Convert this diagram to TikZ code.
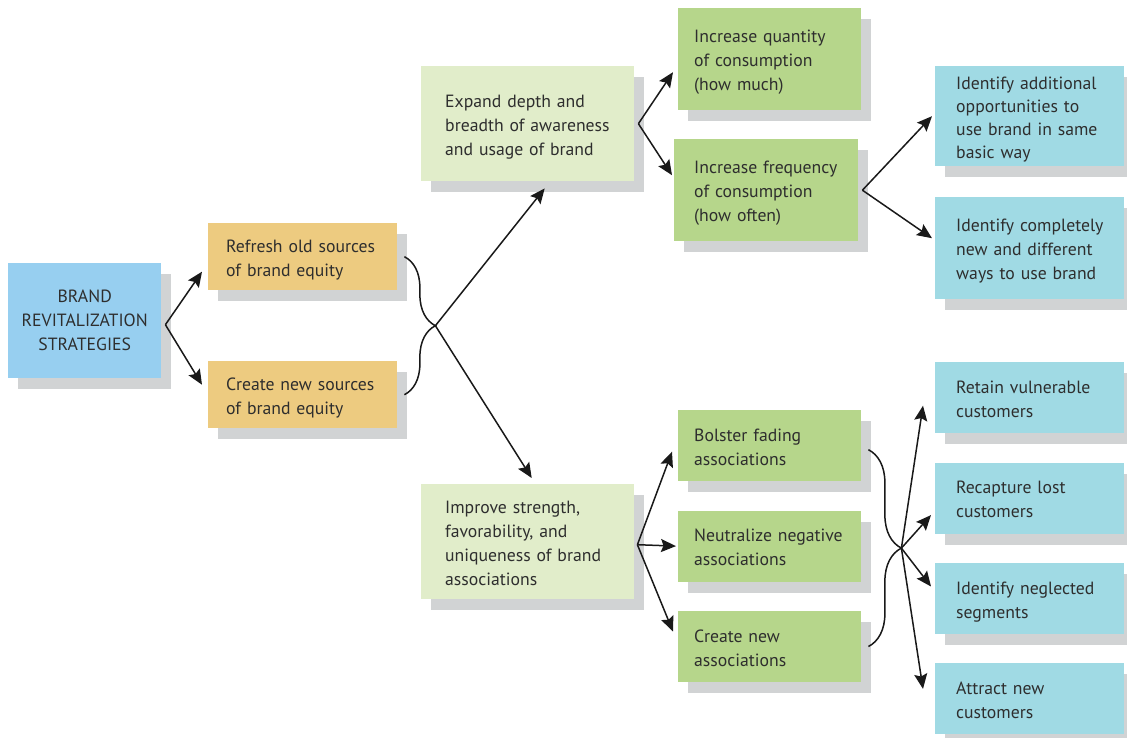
\documentclass[tikz,border=0pt]{standalone}
\usepackage{fontspec}
\setmainfont{PT Sans}
\usetikzlibrary{positioning,calc,shadows,decorations.pathreplacing,arrows.meta}

\definecolor{brandblue}{HTML}{97CFF0}
\definecolor{srcorange}{HTML}{EDCB80}
\definecolor{paleleaf}{HTML}{E1EDCA}
\definecolor{leaf}{HTML}{B6D68B}
\definecolor{aqua}{HTML}{A0DAE4}
\definecolor{shadowgray}{HTML}{D1D3D4}
\definecolor{inkgray}{HTML}{2E2E2E}

\begin{document}
\begin{tikzpicture}[
    x=1pt, y=-1pt,
    font=\fontsize{17.7}{24}\selectfont, text=inkgray,
    box/.style={rectangle, anchor=north west, inner xsep=0pt, inner ysep=0pt, align=left,
        drop shadow={shadow xshift=10pt, shadow yshift=-11pt, fill=shadowgray, opacity=1}},
    lpad/.style={execute at begin node={\leftskip=#1\relax\rule{0pt}{19.5pt}},
        execute at end node={\rule[-4.5pt]{0pt}{0pt}}},
    brandbox/.style={box, fill=brandblue, align=center, text width=153pt, minimum height=115pt},
    srcbox/.style={box, fill=srcorange, lpad=18pt, text width=189pt, minimum height=67pt},
    aimbox/.style={box, fill=paleleaf, lpad=24pt, text width=213pt, minimum height=115pt},
    tacticbox/.style={box, fill=leaf, lpad=16pt, text width=183pt, minimum height=71pt},
    actionbox/.style={box, fill=aqua, lpad=21pt, text width=189pt, minimum height=71pt},
    arrow/.style={-{Stealth[length=15pt,width=13pt,inset=2.5pt]}, line width=1.5pt, draw=black!90},
    bracket/.style={decorate, decoration={brace, amplitude=#1}, line width=1.5pt, draw=black!90}
]
\useasboundingbox (0,0) rectangle (1127,737);

% first two levels
\node[brandbox] (brand) at (8,263) {BRAND\\REVITALIZATION\\STRATEGIES};
\node[srcbox] (refresh) at (208,223) {Refresh old sources\\of brand equity};
\node[srcbox] (createsrc) at (208,361) {Create new sources\\of brand equity};
\node[aimbox] (expand) at (421,66) {Expand depth and\\breadth of awareness\\and usage of brand};
\node[aimbox] (improve) at (421,484) {Improve strength,\\favorability, and\\uniqueness of brand\\associations};

% awareness branch
\node[tacticbox, minimum height=102pt] (quantity) at (678,8) {Increase quantity\\of consumption\\(how much)};
\node[tacticbox, minimum height=102pt, lpad=20pt, text width=184pt] (frequency) at (674,139) {Increase frequency\\of consumption\\(how often)};
\node[actionbox, minimum height=100pt, font=\fontsize{17.7}{23}\selectfont] (additional) at (935,66) {Identify additional\\opportunities to\\use brand in same\\basic way};
\node[actionbox, minimum height=102pt] (completely) at (935,197) {Identify completely\\new and different\\ways to use brand};

% image branch
\node[tacticbox] (bolster) at (678,410) {Bolster fading\\associations};
\node[tacticbox, below=29pt of bolster] (neutralize) {Neutralize negative\\associations};
\node[tacticbox, below=29pt of neutralize] (createassoc) {Create new\\associations};
\node[actionbox] (retain) at (935,362) {Retain vulnerable\\customers};
\node[actionbox, below=29pt of retain] (recapture) {Recapture lost\\customers};
\node[actionbox, below=29pt of recapture] (neglected) {Identify neglected\\segments};
\node[actionbox, below=29pt of neglected] (attract) {Attract new\\customers};

% forks and braces
\coordinate (brandfork) at ([xshift=4pt,yshift=-4pt]brand.east);
\draw[arrow] (brandfork) -- ([xshift=-6pt,yshift=-15pt]refresh.west);
\draw[arrow] (brandfork) -- ([xshift=-6pt,yshift=10pt]createsrc.west);

\draw[bracket=31pt] ([xshift=7pt]refresh.east) -- ([xshift=7pt]createsrc.east);
\coordinate (srctip) at ($(refresh.east)!0.5!(createsrc.east)+(38,0)$);
\draw[arrow] (srctip) -- ([xshift=17pt,yshift=-7pt]expand.south);
\draw[arrow] (srctip) -- ([xshift=4pt,yshift=6pt]improve.north);

\coordinate (expandfork) at ([xshift=4pt]expand.east);
\draw[arrow] (expandfork) -- ([xshift=-5pt,yshift=-13pt]quantity.west);
\draw[arrow] (expandfork) -- ([xshift=-2pt,yshift=15pt]frequency.west);

\coordinate (freqfork) at ([xshift=4pt]frequency.east);
\draw[arrow] (freqfork) -- ([xshift=-3pt]additional.west);
\draw[arrow] (freqfork) -- ([xshift=-3pt,yshift=10pt]completely.west);

\coordinate (improvefork) at ([xshift=3pt,yshift=-3pt]improve.east);
\draw[arrow] (improvefork) -- ([xshift=-6pt,yshift=-6pt]bolster.west);
\draw[arrow] (improvefork) -- ([xshift=-2pt]neutralize.west);
\draw[arrow] (improvefork) -- ([xshift=-5pt,yshift=15pt]createassoc.west);

\draw[bracket=33pt] ([xshift=7pt,yshift=-4pt]bolster.east) -- ([xshift=7pt]createassoc.east);
\coordinate (assoctip) at ($([yshift=-4pt]bolster.east)!0.5!(createassoc.east)+(40,0)$);
\draw[arrow] (assoctip) -- ([xshift=-12pt,yshift=-8pt]retain.west);
\draw[arrow] (assoctip) -- ([xshift=-4pt,yshift=-17pt]recapture.west);
\draw[arrow] (assoctip) -- ([xshift=-4pt,yshift=12pt]neglected.west);
\draw[arrow] (assoctip) -- ([xshift=-12pt,yshift=10pt]attract.west);
\end{tikzpicture}
\end{document}
